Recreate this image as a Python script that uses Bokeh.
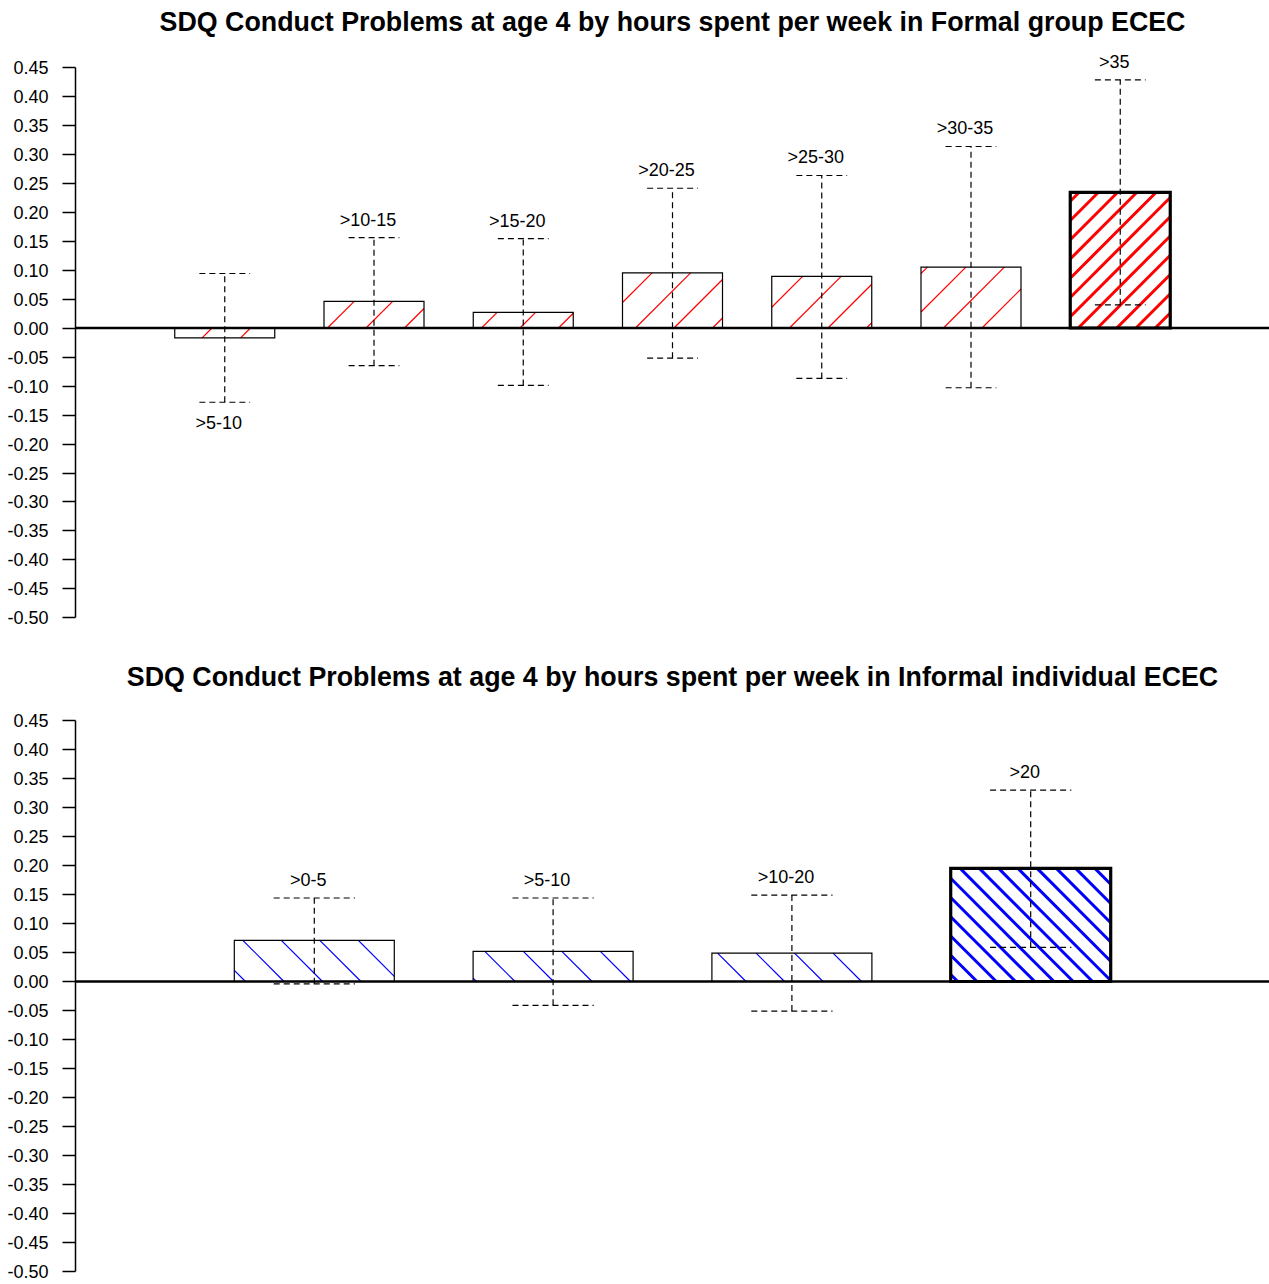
import math
from bokeh.plotting import figure
from bokeh.models import ColumnDataSource, Range1d, FixedTicker, PrintfTickFormatter, Span
from bokeh.layouts import column
from bokeh.embed import file_html
from bokeh.resources import INLINE
from bokeh.core.properties import value

# ---------------- data ----------------
formal_title = "SDQ Conduct Problems at age 4 by hours spent per week in Formal group ECEC"
formal_cats = [">5-10", ">10-15", ">15-20", ">20-25", ">25-30", ">30-35", ">35"]
formal_mean = [-0.017, 0.046, 0.027, 0.095, 0.089, 0.105, 0.234]
formal_lower = [-0.128, -0.065, -0.099, -0.052, -0.087, -0.103, 0.040]
formal_upper = [0.094, 0.156, 0.154, 0.241, 0.263, 0.313, 0.428]
formal_highlight = ">35"

informal_title = "SDQ Conduct Problems at age 4 by hours spent per week in Informal individual ECEC"
informal_cats = [">0-5", ">5-10", ">10-20", ">20"]
informal_mean = [0.071, 0.052, 0.049, 0.195]
informal_lower = [-0.004, -0.041, -0.051, 0.059]
informal_upper = [0.144, 0.144, 0.149, 0.330]
informal_highlight = ">20"

tick_values = [-0.50, -0.45, -0.40, -0.35, -0.30, -0.25, -0.20, -0.15, -0.10, -0.05,
               0.00, 0.05, 0.10, 0.15, 0.20, 0.25, 0.30, 0.35, 0.40, 0.45]

FONT = "Liberation Sans"
W = 1269
BORDER_L = 75
BORDER_T = 0
BAR_W = 0.67


def hatch_lines(xs, tops, flags, sx, sy, direction, spacing_thin, phase):
    """45-degree hatch lines (in screen space) clipped to each bar rectangle."""
    out = dict(x0=[], y0=[], x1=[], y1=[], lw=[])
    for xc, t, hl in zip(xs, tops, flags):
        sp = spacing_thin / 2 if hl else spacing_thin
        lw = 3.0 if hl else 1.2
        XL, XR = (xc - BAR_W / 2) * sx, (xc + BAR_W / 2) * sx
        YB, YT = min(0, t) * sy, max(0, t) * sy
        if direction == "/":
            lo, hi = XL - YT, XR - YB
        else:
            lo, hi = XL + YB, XR + YT
        k0 = math.ceil((lo - phase) / sp)
        k1 = math.floor((hi - phase) / sp)
        for k in range(k0, k1 + 1):
            X0 = phase + k * sp
            if direction == "/":
                ya, yb = max(YB, XL - X0), min(YT, XR - X0)
                xa, xb = ya + X0, yb + X0
            else:
                ya, yb = max(YB, X0 - XR), min(YT, X0 - XL)
                xa, xb = X0 - ya, X0 - yb
            if yb - ya < 0.5:
                continue
            out["x0"].append(xa / sx); out["y0"].append(ya / sy)
            out["x1"].append(xb / sx); out["y1"].append(yb / sy)
            out["lw"].append(lw)
    return out


def panel(title, cats, mean, lower, upper, highlight, color, direction, phase,
          x_range, y_range, height, border_bottom, title_drop):
    n = len(cats)
    xs = list(range(n))
    hl = [c == highlight for c in cats]
    src = ColumnDataSource(dict(
        x=xs, cat=cats, mean=mean, lower=lower, upper=upper,
        lw=[3.2 if h else 1.2 for h in hl],
        cap_l=[x - 0.17 for x in xs], cap_r=[x + 0.17 for x in xs],
    ))
    p = figure(width=W, height=height, output_backend="svg", toolbar_location=None,
               x_range=Range1d(*x_range), y_range=Range1d(*y_range),
               min_border_left=BORDER_L, min_border_right=0, min_border_top=BORDER_T,
               min_border_bottom=border_bottom, x_axis_location=None)
    p.outline_line_color = None
    p.grid.visible = False
    p.background_fill_color = "white"
    p.border_fill_color = "white"

    ax = p.yaxis[0]
    ax.ticker = FixedTicker(ticks=tick_values)
    ax.formatter = PrintfTickFormatter(format="%.2f")
    ax.bounds = (tick_values[0], tick_values[-1])
    ax.major_label_text_font = FONT
    ax.major_label_text_font_size = "18px"
    ax.major_label_text_color = "black"
    ax.major_tick_out = 13
    ax.major_tick_in = 0
    ax.minor_tick_out = 0
    ax.minor_tick_in = 0
    ax.major_label_standoff = 14
    ax.axis_line_width = 1.5
    ax.major_tick_line_width = 1.5
    ax.axis_line_color = "black"
    ax.major_tick_line_color = "black"

    # pixel scales of the frame, used to keep the hatching at 45 degrees on screen
    frame_w = W - BORDER_L
    frame_h = height - BORDER_T - border_bottom
    sx = frame_w / (x_range[1] - x_range[0])
    sy = frame_h / (y_range[1] - y_range[0])

    # title, centred over the plotting region near its top edge
    tsrc = ColumnDataSource(dict(x=[(x_range[0] + x_range[1]) / 2], y=[y_range[1]], t=[title]))
    p.text(x="x", y="y", text="t", source=tsrc, text_font=value(FONT),
           text_font_size="26.8px", text_font_style="bold", text_color="black",
           text_align="center", text_baseline="middle", y_offset=title_drop)

    # bar fill
    p.vbar(x="x", width=BAR_W, top="mean", bottom=0, source=src,
           fill_color="white", line_color=None)
    # hatching
    hsrc = ColumnDataSource(hatch_lines(xs, mean, hl, sx, sy, direction, 38.5, phase))
    p.segment(x0="x0", y0="y0", x1="x1", y1="y1", source=hsrc,
              line_color=color, line_width="lw")
    # bar outline
    p.vbar(x="x", width=BAR_W, top="mean", bottom=0, source=src,
           fill_color=None, line_color="black", line_width="lw", line_join="miter")

    p.add_layout(Span(location=0, dimension="width", line_color="black", line_width=2.4))

    dash = "6 4"
    p.segment(x0="x", x1="x", y0="lower", y1="upper", source=src,
              line_color="black", line_width=1.2, line_dash=dash)
    p.segment(x0="cap_l", x1="cap_r", y0="upper", y1="upper", source=src,
              line_color="black", line_width=1.2, line_dash=dash)
    p.segment(x0="cap_l", x1="cap_r", y0="lower", y1="lower", source=src,
              line_color="black", line_width=1.2, line_dash=dash)

    pos = [i for i in range(n) if mean[i] >= 0]
    neg = [i for i in range(n) if mean[i] < 0]
    for idx, ys, off in ((pos, upper, -18), (neg, lower, 21)):
        if not idx:
            continue
        s = ColumnDataSource(dict(x=[xs[i] for i in idx], y=[ys[i] for i in idx],
                                  t=[cats[i] for i in idx]))
        p.text(x="x", y="y", text="t", source=s, text_font=value(FONT),
               text_font_size="18px", text_color="black", text_align="center",
               text_baseline="middle", x_offset=-6, y_offset=off)
    return p


# top: zero at page y 327.5, 580 px per unit; frame from page 0 to 648
p1 = panel(formal_title, formal_cats, formal_mean, formal_lower, formal_upper,
           formal_highlight, "red", "/", 102.75, (-1.0, 7.0), (-0.5526, 0.5647), 654, 6, 21)
# bottom: zero at page y 981; frame from page 654 to 1280
p2 = panel(informal_title, informal_cats, informal_mean, informal_lower, informal_upper,
           informal_highlight, "blue", "\\", -68.8, (-1.0, 4.0), (-0.5155, 0.5638), 630, 4, 22)

layout = column(p1, p2, spacing=0)
open("out.html", "w").write(file_html(layout, INLINE))
